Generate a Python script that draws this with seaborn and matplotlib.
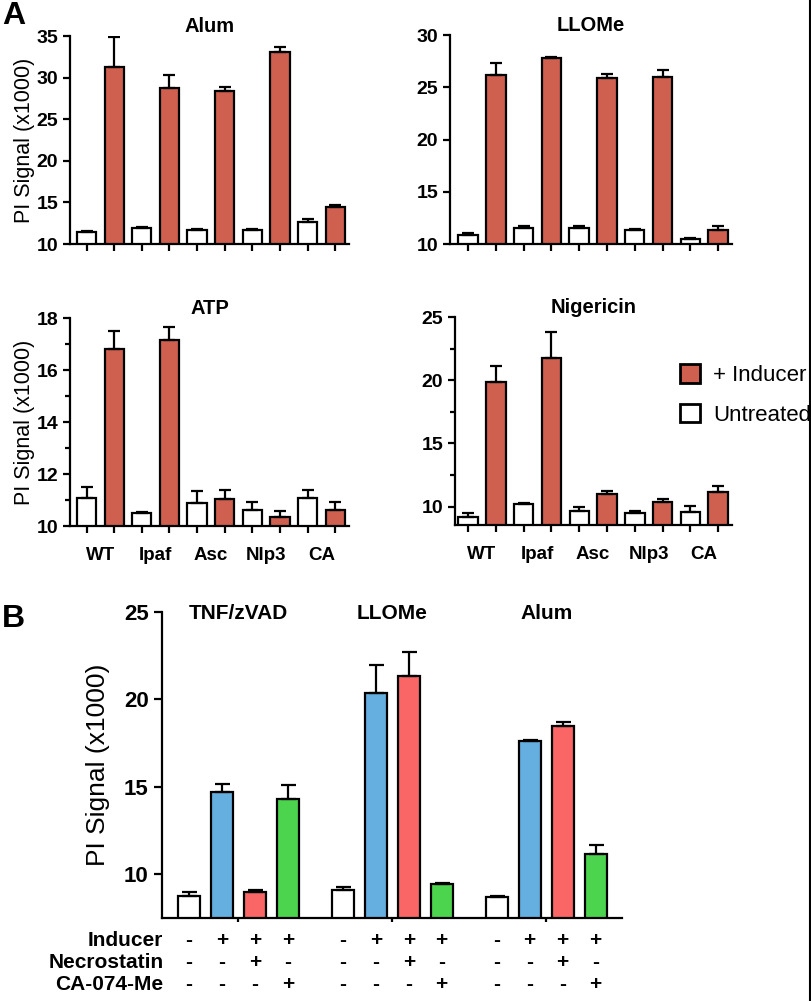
import numpy as np
import pandas as pd
import matplotlib
matplotlib.use('Agg')
import matplotlib.pyplot as plt
from matplotlib.patches import Patch
from matplotlib.lines import Line2D
import seaborn as sns

sns.set_style('ticks')
plt.rcParams['font.family'] = ['Liberation Sans', 'DejaVu Sans']
for key in ['text.color', 'axes.edgecolor', 'axes.labelcolor', 'xtick.color', 'ytick.color']:
    plt.rcParams[key] = 'black'

# ---- data, panel A (values and upward error, x1000) ----
strains = ['WT', 'Ipaf', 'Asc', 'Nlp3', 'CA']

alum_untr = [11.5, 11.9, 11.7, 11.7, 12.7]
alum_untr_err = [0.1, 0.1, 0.1, 0.1, 0.3]
alum_ind = [31.3, 28.7, 28.4, 33.1, 14.4]
alum_ind_err = [3.6, 1.6, 0.5, 0.6, 0.3]

llome_untr = [10.9, 11.5, 11.5, 11.3, 10.45]
llome_untr_err = [0.2, 0.2, 0.25, 0.1, 0.1]
llome_ind = [26.2, 27.8, 25.9, 26.0, 11.3]
llome_ind_err = [1.1, 0.1, 0.4, 0.65, 0.45]

atp_untr = [11.06, 10.5, 10.88, 10.62, 11.08]
atp_untr_err = [0.45, 0.05, 0.45, 0.32, 0.29]
atp_ind = [16.8, 17.17, 11.04, 10.36, 10.62]
atp_ind_err = [0.7, 0.47, 0.35, 0.22, 0.29]

nig_untr = [9.2, 10.19, 9.66, 9.47, 9.6]
nig_untr_err = [0.27, 0.07, 0.34, 0.19, 0.48]
nig_ind = [19.87, 21.77, 11.0, 10.4, 11.19]
nig_ind_err = [1.29, 2.07, 0.27, 0.2, 0.45]

# ---- data, panel B ----
b_groups = ['TNF/zVAD', 'LLOMe', 'Alum']
b_conditions = ['Untreated', 'Inducer', 'Necrostatin', 'CA-074-Me']
tnf_vals = [8.77, 14.71, 8.96, 14.33]
tnf_err = [0.23, 0.45, 0.13, 0.76]
llome_b_vals = [9.09, 20.35, 21.34, 9.47]
llome_b_err = [0.21, 1.61, 1.38, 0.06]
alum_b_vals = [8.71, 17.6, 18.49, 11.14]
alum_b_err = [0.06, 0.09, 0.24, 0.53]
row_names = ['Inducer', 'Necrostatin', 'CA-074-Me']
row_signs = [['-', '+', '+', '+'],
             ['-', '-', '+', '-'],
             ['-', '-', '-', '+']]

RED = '#CF604F'
B_COLORS = {'Untreated': 'white', 'Inducer': '#64AEE0',
            'Necrostatin': '#FA6565', 'CA-074-Me': '#4CD44E'}
LW = 1.6


def panel_a(ax, untr, untr_err, ind, ind_err, title, ylim, major, minor=None, xlabels=False):
    vals, errs, treat = [], [], []
    for u, ue, v, ve in zip(untr, untr_err, ind, ind_err):
        vals += [u, v]
        errs += [ue, ve]
        treat += ['Untreated', '+ Inducer']
    df = pd.DataFrame({'pos': np.arange(len(vals)), 'value': vals, 'treat': treat})
    sns.barplot(data=df, x='pos', y='value', hue='treat', dodge=False, native_scale=True,
                palette={'Untreated': 'white', '+ Inducer': RED}, width=0.7, saturation=1,
                edgecolor='black', linewidth=LW, errorbar=None, legend=False, ax=ax)
    ax.errorbar(df['pos'], df['value'], yerr=[np.zeros(len(errs)), errs], fmt='none',
                ecolor='black', elinewidth=LW, capsize=4.3, capthick=LW, zorder=1)
    ax.set_ylim(*ylim)
    ax.set_xlim(-0.6, 9.5)
    ax.set_yticks(major)
    if minor is not None:
        ax.set_yticks(minor, minor=True)
    ax.set_xticks(np.arange(10))
    ax.set_xticklabels([])
    if xlabels:
        ax.set_xticks(np.arange(0.5, 10, 2), minor=True)
        ax.set_xticklabels(strains, minor=True, fontsize=13.5, fontweight='bold')
    ax.tick_params(axis='x', which='minor', length=0, pad=15)
    ax.tick_params(axis='both', which='major', length=5, width=LW, labelsize=14)
    ax.tick_params(axis='y', which='minor', length=3.5, width=LW)
    for lab in ax.get_yticklabels():
        lab.set_fontweight('bold')
    ax.set_xlabel('')
    ax.set_ylabel('')
    ax.set_title(title, fontsize=14.5, fontweight='bold', pad=3)
    sns.despine(ax=ax)
    for s in ['left', 'bottom']:
        ax.spines[s].set_linewidth(LW)


fig = plt.figure(figsize=(8.12, 10.01), dpi=100)

ax1 = fig.add_axes([0.0862, 0.7562, 0.3436, 0.2078])
ax2 = fig.add_axes([0.5542, 0.7562, 0.3473, 0.2088])
ax3 = fig.add_axes([0.0862, 0.4745, 0.3436, 0.2078])
ax4 = fig.add_axes([0.5604, 0.4755, 0.3411, 0.2078])

panel_a(ax1, alum_untr, alum_untr_err, alum_ind, alum_ind_err, 'Alum', (10, 35), [10, 15, 20, 25, 30, 35])
panel_a(ax2, llome_untr, llome_untr_err, llome_ind, llome_ind_err, 'LLOMe', (10, 30), [10, 15, 20, 25, 30])
panel_a(ax3, atp_untr, atp_untr_err, atp_ind, atp_ind_err, 'ATP', (10, 18), [10, 12, 14, 16, 18],
        minor=[11, 13, 15, 17], xlabels=True)
panel_a(ax4, nig_untr, nig_untr_err, nig_ind, nig_ind_err, 'Nigericin', (8.55, 25), [10, 15, 20, 25],
        minor=[12.5, 17.5, 22.5], xlabels=True)
ax4.set_xlim(-0.47, 9.5)
ax2.set_xlim(-0.65, 9.5)

for ax in (ax1, ax3):
    ax.set_ylabel('PI Signal (x1000)', fontsize=15.5, labelpad=1)

fig.legend(handles=[Patch(facecolor=RED, edgecolor='black', linewidth=2, label='+ Inducer'),
                    Patch(facecolor='white', edgecolor='black', linewidth=2, label='Untreated')],
           loc='upper left', bbox_to_anchor=(0.8374, 0.636), frameon=False, fontsize=16,
           handlelength=0.9, handleheight=0.9, handletextpad=0.6, labelspacing=0.8,
           borderaxespad=0, borderpad=0)

# ---- panel B ----
axb = fig.add_axes([0.1995, 0.0829, 0.5665, 0.3057])
group_step = 4.67
rows = []
for g, (vals, errs) in enumerate(zip([tnf_vals, llome_b_vals, alum_b_vals],
                                     [tnf_err, llome_b_err, alum_b_err])):
    for k, cond in enumerate(b_conditions):
        rows.append({'pos': g * group_step + k - 1.5, 'value': vals[k], 'err': errs[k], 'cond': cond})
dfb = pd.DataFrame(rows)
sns.barplot(data=dfb, x='pos', y='value', hue='cond', dodge=False, native_scale=True,
            palette=B_COLORS, width=0.67, saturation=1, edgecolor='black', linewidth=LW,
            errorbar=None, legend=False, ax=axb)
axb.errorbar(dfb['pos'], dfb['value'], yerr=[np.zeros(len(dfb)), dfb['err']], fmt='none',
             ecolor='black', elinewidth=LW, capsize=5.4, capthick=LW, zorder=1)
axb.set_ylim(7.5, 25)
axb.set_xlim(-2.32, 2 * group_step + 2.3)
axb.set_yticks([10, 15, 20, 25])
centers = np.arange(3) * group_step
axb.set_xticks(centers)
axb.set_xticklabels([])
axb.tick_params(axis='x', length=3, width=LW)
axb.tick_params(axis='y', length=6, width=LW, labelsize=16)
for lab in axb.get_yticklabels():
    lab.set_fontweight('bold')
axb.set_xlabel('')
axb.set_ylabel('PI Signal (x1000)', fontsize=19, labelpad=10)
sns.despine(ax=axb)
for s in ['left', 'bottom']:
    axb.spines[s].set_linewidth(LW)
for c, name in zip(centers, b_groups):
    axb.text(c, 24.9, name, ha='center', va='center', fontsize=15, fontweight='bold')

trans = axb.get_xaxis_transform()
row_y = [-0.072, -0.144, -0.216]
for name, signs, yy in zip(row_names, row_signs, row_y):
    axb.text(0.003, yy, name, transform=axb.transAxes, ha='right', va='center',
             fontsize=15, fontweight='bold')
    for c in centers:
        for k, sgn in enumerate(signs):
            axb.text(c + k - 1.5, yy, sgn, transform=trans, ha='center', va='center',
                     fontsize=15, fontweight='bold', clip_on=False)

fig.text(0.003, 0.999, 'A', fontsize=23, fontweight='bold', ha='left', va='top')
fig.text(0.002, 0.397, 'B', fontsize=23, fontweight='bold', ha='left', va='top')
fig.add_artist(Line2D([0.9975, 0.9975], [0, 1], color='black', lw=1.5, transform=fig.transFigure))

fig.savefig('out.png', dpi=100)
